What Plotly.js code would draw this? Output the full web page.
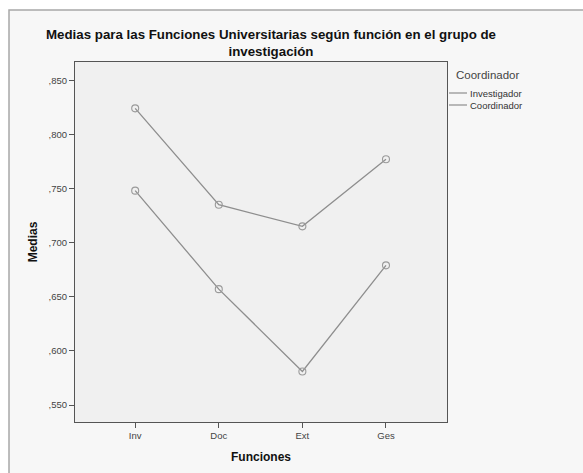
<!DOCTYPE html>
<html>
<head>
<meta charset="utf-8">
<script src="https://cdn.plot.ly/plotly-3.0.1.min.js"></script>
<style>html,body{margin:0;padding:0;background:#fff;}#chart{width:583px;height:473px;}</style>
</head>
<body>
<div id="chart"></div>
<script>
var categories = ["Inv", "Doc", "Ext", "Ges"];
var seriesNames = ["Investigador", "Coordinador"];
var investigador = [0.748, 0.657, 0.581, 0.679];
var coordinador = [0.824, 0.735, 0.715, 0.777];
var yTickVals = [0.55, 0.60, 0.65, 0.70, 0.75, 0.80, 0.85];
var yTickText = [",550", ",600", ",650", ",700", ",750", ",800", ",850"];
var legendTitle = "Coordinador";

var lineColor = "#8e8e8e";
function seriesTrace(name, vals) {
  return {x: categories, y: vals, name: name, type: "scatter", mode: "lines+markers",
          line: {color: lineColor, width: 1.3},
          marker: {symbol: "circle-open", size: 7, color: "#9a9a9a", line: {width: 1.1, color: "#9a9a9a"}}};
}
var data = [seriesTrace(seriesNames[0], investigador), seriesTrace(seriesNames[1], coordinador)];

var L = 75, R = 447, T = 62, B = 422;
function px(x) { return (x - L) / (R - L); }
function py(y) { return (B - y) / (B - T); }

var shapes = [
  {type: "rect", xref: "paper", yref: "paper", x0: px(9), x1: px(600), y0: py(490), y1: py(10),
   fillcolor: "#f7f7f7", line: {color: "#a8a8a8", width: 1.5}, layer: "below"},
  {type: "rect", xref: "paper", yref: "paper", x0: 0, x1: 1, y0: 0, y1: 1,
   fillcolor: "#f0f0f0", line: {width: 0}, layer: "below"}
];
var annotations = [
  {text: legendTitle, xref: "paper", yref: "paper", x: px(454), y: py(75), xanchor: "left", yanchor: "middle",
   showarrow: false, font: {size: 11.5, color: "#444444"}},
  {text: "<b>Medias para las Funciones Universitarias según función en el grupo de<br>investigación</b>",
   xref: "paper", yref: "paper", x: px(271), y: py(43), xanchor: "center", yanchor: "middle",
   showarrow: false, font: {size: 13.3, color: "#111111"}}
];
seriesNames.forEach(function (n, i) {
  var yy = 93 + i * 12;
  shapes.push({type: "line", xref: "paper", yref: "paper", x0: px(449), x1: px(467), y0: py(yy), y1: py(yy),
               line: {color: lineColor, width: 1.2}});
  annotations.push({text: n, xref: "paper", yref: "paper", x: px(467.5), y: py(yy), xanchor: "left", yanchor: "middle",
                    showarrow: false, font: {size: 9.5, color: "#333333"}});
});

var layout = {
  width: 583, height: 473,
  margin: {l: L, r: 583 - R, t: T, b: 473 - B, pad: 0},
  paper_bgcolor: "#ffffff",
  plot_bgcolor: "rgba(0,0,0,0)",
  showlegend: false,
  font: {family: "Liberation Sans, Arial, sans-serif", color: "#333333"},
  xaxis: {type: "category", range: [-0.72, 3.73], showgrid: false, zeroline: false,
          showline: true, mirror: true, linecolor: "#555555", linewidth: 1,
          ticks: "outside", ticklen: 5, tickcolor: "#555555", tickwidth: 1,
          tickfont: {size: 9.5, color: "#444444"},
          title: {text: "<b>Funciones</b>", font: {size: 12, color: "#111111"}, standoff: 12}},
  yaxis: {range: [0.5343, 0.8668], showgrid: false, zeroline: false,
          showline: true, mirror: true, linecolor: "#555555", linewidth: 1,
          ticks: "outside", ticklen: 5, tickcolor: "#555555", tickwidth: 1,
          tickvals: yTickVals, ticktext: yTickText,
          tickfont: {size: 9.5, color: "#444444"},
          title: {text: "<b>Medias</b>", font: {size: 12, color: "#111111"}, standoff: 8}},
  shapes: shapes,
  annotations: annotations
};
Plotly.newPlot("chart", data, layout, {displayModeBar: false, staticPlot: true});
</script>
</body>
</html>
